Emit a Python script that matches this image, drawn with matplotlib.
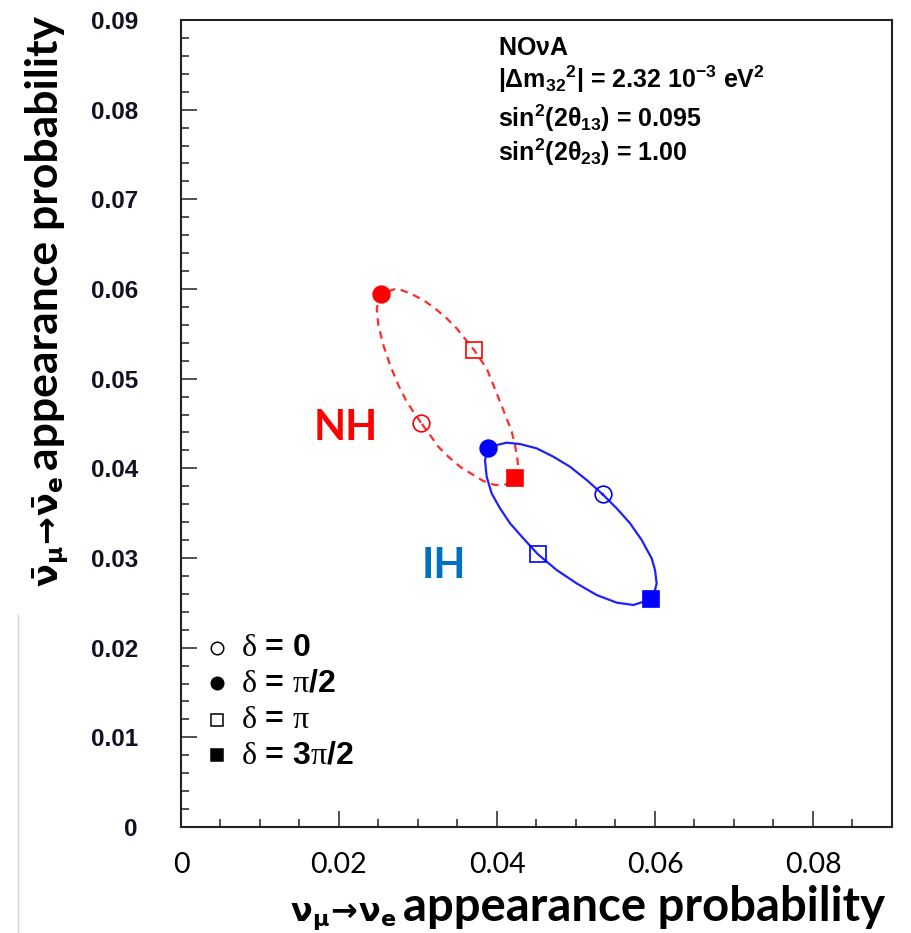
import matplotlib
matplotlib.use("Agg")
import matplotlib.pyplot as plt
from matplotlib.lines import Line2D

# Math text: sans bold for upright symbols, serif regular for delta / pi
plt.rcParams["mathtext.fontset"] = "custom"
plt.rcParams["mathtext.rm"] = "Liberation Sans:bold"
plt.rcParams["mathtext.bf"] = "Liberation Sans:bold"
plt.rcParams["mathtext.it"] = "Liberation Serif"
plt.rcParams["mathtext.default"] = "rm"

# ---- data -------------------------------------------------------------
# Normal hierarchy curve (delta from 0 through 2pi)
nh_curve_x = [0.03038, 0.02941, 0.02857, 0.02751, 0.02646, 0.02561, 0.02498,
              0.02477, 0.02532, 0.02730, 0.02899, 0.03067, 0.03215, 0.03363,
              0.03489, 0.03709, 0.03869, 0.03954, 0.04038, 0.04122, 0.04186,
              0.04228, 0.04257, 0.04270, 0.04232, 0.04122, 0.03975, 0.03827,
              0.03700, 0.03532, 0.03384, 0.03257, 0.03152, 0.03038]
nh_curve_y = [0.04509, 0.04632, 0.04743, 0.04929, 0.05152, 0.05375, 0.05598,
              0.05784, 0.05944, 0.06007, 0.05952, 0.05877, 0.05784, 0.05673,
              0.05561, 0.05320, 0.05115, 0.04929, 0.04743, 0.04557, 0.04409,
              0.04260, 0.04111, 0.04000, 0.03888, 0.03821, 0.03814, 0.03859,
              0.03926, 0.04018, 0.04130, 0.04241, 0.04372, 0.04509]

# Inverted hierarchy curve (delta from 0 through 2pi)
ih_curve_x = [0.05338, 0.05135, 0.04924, 0.04713, 0.04502, 0.04291, 0.04122,
              0.03996, 0.03890, 0.03848, 0.03869, 0.03932, 0.04038, 0.04165,
              0.04333, 0.04515, 0.04755, 0.05008, 0.05262, 0.05515, 0.05726,
              0.05949, 0.06000, 0.06021, 0.06000, 0.05958, 0.05831, 0.05684,
              0.05515, 0.05338]
ih_curve_y = [0.03710, 0.03870, 0.04018, 0.04130, 0.04223, 0.04271, 0.04286,
              0.04260, 0.04223, 0.04093, 0.03907, 0.03721, 0.03554, 0.03387,
              0.03219, 0.03044, 0.02866, 0.02717, 0.02587, 0.02502, 0.02476,
              0.02539, 0.02643, 0.02717, 0.02866, 0.02996, 0.03201, 0.03387,
              0.03554, 0.03710]

# Points at delta = 0, pi/2, pi, 3pi/2
delta_labels = [r"$\mathit{\delta}$ = 0",
                r"$\mathit{\delta}$ = $\mathit{\pi}$/2",
                r"$\mathit{\delta}$ = $\mathit{\pi}$",
                r"$\mathit{\delta}$ = 3$\mathit{\pi}$/2"]
nh_point_x = [0.03038, 0.02532, 0.03709, 0.04232]
nh_point_y = [0.04509, 0.05944, 0.05320, 0.03888]
ih_point_x = [0.05338, 0.03890, 0.04515, 0.05949]
ih_point_y = [0.03710, 0.04223, 0.03044, 0.02539]

x_ticks = [0, 0.02, 0.04, 0.06, 0.08]
x_tick_labels = ["0", "0.02", "0.04", "0.06", "0.08"]
y_ticks = [0, 0.01, 0.02, 0.03, 0.04, 0.05, 0.06, 0.07, 0.08, 0.09]
y_tick_labels = ["0", "0.01", "0.02", "0.03", "0.04", "0.05", "0.06",
                 "0.07", "0.08", "0.09"]

info_lines = [r"NO$\nu$A",
              r"|$\Delta m_{32}{}^{2}$| = 2.32 10$^{-3}$ eV$^{2}$",
              r"sin$^{2}$(2$\theta_{13}$) = 0.095",
              r"sin$^{2}$(2$\theta_{23}$) = 1.00"]

# ---- figure -----------------------------------------------------------
W, H = 912, 933
fig = plt.figure(figsize=(W / 100, H / 100), dpi=100)
ax = fig.add_axes([181 / W, (H - 827) / H, 711 / W, 807 / H])
ax.set_xlim(0, 0.09)
ax.set_ylim(0, 0.09)

red = "#ff0000"
blue = "#0000ff"

ax.plot(nh_curve_x, nh_curve_y, color="#ff2a2a", lw=1.6,
        ls=(0, (3.4, 2.6)), zorder=2)
ax.plot(ih_curve_x, ih_curve_y, color="#2020ff", lw=1.6, zorder=2)

marker_shapes = ["o", "o", "s", "s"]
marker_filled = [False, True, False, True]
for px, py, col in ((nh_point_x, nh_point_y, red), (ih_point_x, ih_point_y, blue)):
    for i in range(4):
        ax.plot([px[i]], [py[i]], marker=marker_shapes[i], ms=12,
                mfc=col if marker_filled[i] else "none", mec=col,
                mew=1.2, ls="none", zorder=3)

ax.text(0.0209, 0.0445, "NH", color=red, fontsize=30, fontweight="bold",
        family="Lato", ha="center", va="center")
ax.text(0.0333, 0.0291, "IH", color="#0070c0", fontsize=30, fontweight="bold",
        family="Lato", ha="center", va="center")

# legend for delta values
leg_rows = [0.2218, 0.1784, 0.1326, 0.0892]
for i in range(4):
    ax.plot([0.0506], [leg_rows[i]], marker=marker_shapes[i], ms=9,
            mfc="black" if marker_filled[i] else "none", mec="black",
            mew=1.1, ls="none", transform=ax.transAxes, clip_on=False)
    ax.text(0.0850, leg_rows[i], delta_labels[i], transform=ax.transAxes,
            fontsize=23, family="Liberation Sans", fontweight="bold",
            va="center", ha="left", math_fontfamily="custom")

# parameter box
info_base = [55, 88, 127, 161]
for txt, yb in zip(info_lines, info_base):
    ax.text(0.446, (827 - yb) / 807, txt, transform=ax.transAxes,
            fontsize=18, family="Liberation Sans", fontweight="bold",
            va="baseline", ha="left", math_fontfamily="custom")

# axes styling
for sp in ax.spines.values():
    sp.set_linewidth(1.5)
    sp.set_color("#222222")
ax.set_xticks(x_ticks)
ax.set_xticklabels(x_tick_labels)
ax.set_yticks(y_ticks)
ax.set_yticklabels(y_tick_labels)
ax.xaxis.set_minor_locator(matplotlib.ticker.MultipleLocator(0.005))
ax.yaxis.set_minor_locator(matplotlib.ticker.MultipleLocator(0.002))
ax.tick_params(which="both", direction="in", top=False, right=False,
               width=1.1, color="#222222")
ax.tick_params(which="major", length=11.5)
ax.tick_params(which="minor", length=6)
ax.tick_params(axis="y", which="major", pad=31)
ax.tick_params(axis="x", which="major", pad=18)
for lab in ax.get_yticklabels():
    lab.set_fontfamily("Liberation Sans")
    lab.set_fontweight("bold")
    lab.set_fontsize(17.5)
    lab.set_color("#111122")
for lab in ax.get_xticklabels():
    lab.set_fontfamily("Lato")
    lab.set_fontsize(20.5)
    lab.set_color("black")

# axis titles: symbol part and word part set side by side
fig.text(397 / W, 1 - 921 / H,
         r"$\mathbf{\nu_{\mu}\!\rightarrow\!\nu_{e}}$",
         ha="right", va="baseline", fontsize=23, math_fontfamily="dejavusans")
fig.text(403 / W, 1 - 921 / H, "appearance probability",
         ha="left", va="baseline", fontsize=34, family="Lato",
         fontweight="bold")
fig.text(58 / W, 1 - 476 / H,
         r"$\mathbf{\bar{\nu}_{\mu}\!\rightarrow\!\bar{\nu}_{e}}$",
         ha="right", va="baseline", rotation=90, rotation_mode="anchor",
         fontsize=24, math_fontfamily="dejavusans")
fig.text(58 / W, 1 - 470 / H, "appearance probability",
         ha="left", va="baseline", rotation=90, rotation_mode="anchor",
         fontsize=32, family="Lato", fontweight="bold")

fig.add_artist(Line2D([18 / W, 18 / W], [0, 1 - 615 / H], color="#d4d4d4",
                      lw=1.0, transform=fig.transFigure))

fig.savefig("out.png", dpi=100)
